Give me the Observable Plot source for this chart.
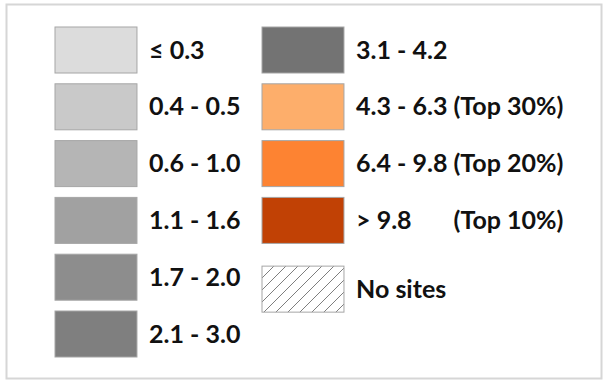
<!DOCTYPE html>
<html>
<head>
<meta charset="utf-8">
<script src="https://cdn.jsdelivr.net/npm/d3@7"></script>
<script src="https://cdn.jsdelivr.net/npm/@observablehq/plot@0.6"></script>
<style>
  html, body { margin: 0; padding: 0; background: #fff; }
  svg { display: block; }
</style>
</head>
<body>
<div id="chart"></div>
<script>
// Legend classes
const leftLabels  = ["≤ 0.3", "0.4 - 0.5", "0.6 - 1.0", "1.1 - 1.6", "1.7 - 2.0", "2.1 - 3.0"];
const leftColors  = ["#dcdcdc", "#c9c9c9", "#b5b5b5", "#a1a1a1", "#8d8d8d", "#7f7f7f"];
const rightLabels = ["3.1 - 4.2", "4.3 - 6.3 (Top 30%)", "6.4 - 9.8 (Top 20%)", "> 9.8"];
const rightColors = ["#737373", "#fdae6b", "#fd8332", "#c14105"];
const rightNotes  = ["", "", "", "(Top 10%)"];
const noSitesLabel = "No sites";

const items = [
  ...leftLabels.map((label, i) => ({col: 0, row: i, label, fill: leftColors[i], note: ""})),
  ...rightLabels.map((label, i) => ({col: 1, row: i, label, fill: rightColors[i], note: rightNotes[i]}))
];
const noSites = [{col: 1, row: rightLabels.length, label: noSitesLabel}];

const SW = 0.396, SH = 0.81, GAP = 0.21;
const font = "Lato, 'Open Sans', sans-serif";
const FS = 25;

const chart = Plot.plot({
  width: 605,
  height: 381,
  marginLeft: 6, marginTop: 4, marginRight: 4, marginBottom: 3,
  x: {domain: [0, 1], range: [55, 262], axis: null},
  y: {domain: [0, 1], range: [27, 83.8], axis: null},
  style: {fontFamily: font},
  marks: [
    Plot.frame({stroke: "#d6d6d6", strokeWidth: 2}),
    Plot.rect(items, {
      x1: "col", x2: d => d.col + SW,
      y1: "row", y2: d => d.row + SH,
      fill: "fill", stroke: "#a6a6a6", strokeWidth: 1
    }),
    Plot.rect(noSites, {
      x1: "col", x2: d => d.col + SW,
      y1: d => d.row + GAP, y2: d => d.row + GAP + SH,
      fill: "url(#hatch)", stroke: "#a6a6a6", strokeWidth: 1
    }),
    Plot.text(items, {
      x: d => d.col + 0.452, y: d => d.row + SH / 2, text: "label",
      textAnchor: "start", fontSize: FS, fontWeight: "bold", fill: "#111"
    }),
    Plot.text(items.filter(d => d.note), {
      x: d => d.col + 0.923, y: d => d.row + SH / 2, text: "note",
      textAnchor: "start", fontSize: FS, fontWeight: "bold", fill: "#111"
    }),
    Plot.text(noSites, {
      x: d => d.col + 0.452, y: d => d.row + GAP + SH / 2, text: "label",
      textAnchor: "start", fontSize: FS, fontWeight: "bold", fill: "#111"
    })
  ]
});

const svg = d3.select(chart);
const defs = svg.insert("defs", ":first-child");
const pat = defs.append("pattern")
  .attr("id", "hatch")
  .attr("patternUnits", "userSpaceOnUse")
  .attr("width", 12).attr("height", 12);
pat.append("rect").attr("width", 12).attr("height", 12).attr("fill", "#fff");
pat.append("path")
  .attr("d", "M-3,3 L3,-3 M0,12 L12,0 M9,15 L15,9")
  .attr("stroke", "#6f6f6f").attr("stroke-width", 0.9);

document.getElementById("chart").appendChild(chart);
</script>
</body>
</html>
